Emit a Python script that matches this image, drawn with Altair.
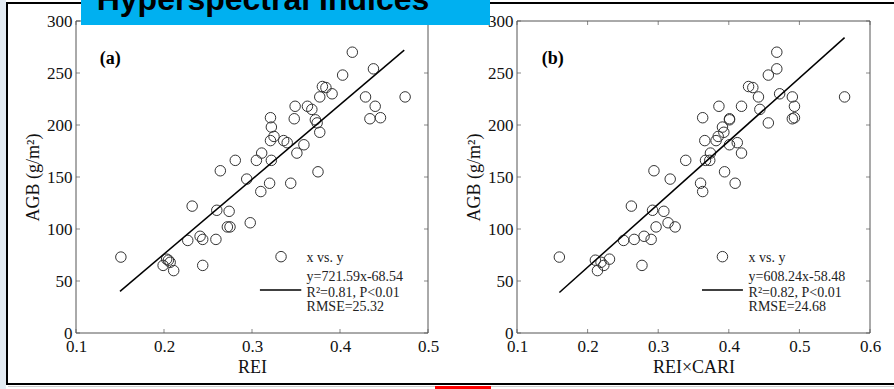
import altair as alt
import pandas as pd

# ---------------- data ----------------
agb = [270, 254, 248, 237, 236, 230, 227, 227, 227, 218, 218, 215, 218,
       206, 207, 206, 207, 205, 202, 198, 193, 189, 185, 185, 183, 181,
       173, 173, 166, 166, 166, 156, 155, 148, 144, 144, 136, 122, 118,
       117, 102, 102, 106, 89, 93, 90, 90, 73, 65, 70, 68, 71, 60, 65]

rei = [0.414, 0.438, 0.403, 0.380, 0.384, 0.391, 0.377, 0.429, 0.474,
       0.349, 0.363, 0.368, 0.440, 0.434, 0.446, 0.348, 0.321, 0.372,
       0.374, 0.322, 0.377, 0.325, 0.321, 0.336, 0.340, 0.359, 0.351,
       0.311, 0.281, 0.305, 0.322, 0.264, 0.375, 0.294, 0.320, 0.344,
       0.310, 0.232, 0.260, 0.274, 0.272, 0.275, 0.298, 0.227, 0.241,
       0.244, 0.259, 0.151, 0.199, 0.205, 0.207, 0.203, 0.211, 0.244]

rei_cari = [0.468, 0.468, 0.456, 0.428, 0.434, 0.472, 0.442, 0.490, 0.564,
            0.386, 0.418, 0.444, 0.493, 0.490, 0.493, 0.401, 0.363, 0.401,
            0.456, 0.391, 0.393, 0.385, 0.366, 0.382, 0.412, 0.401, 0.418,
            0.374, 0.339, 0.367, 0.373, 0.294, 0.394, 0.317, 0.360, 0.409,
            0.363, 0.262, 0.292, 0.308, 0.297, 0.324, 0.314, 0.251, 0.280,
            0.266, 0.290, 0.160, 0.223, 0.211, 0.219, 0.231, 0.214, 0.277]

fit_rei_x = [0.150, 0.473]
fit_rei_y = [40, 272]
fit_cari_x = [0.160, 0.564]
fit_cari_y = [39, 284]

x_ticks_rei = [0.1, 0.2, 0.3, 0.4, 0.5]
x_ticks_cari = [0.1, 0.2, 0.3, 0.4, 0.5, 0.6]
y_ticks = [0, 50, 100, 150, 200, 250, 300]

legend_rei = ["x vs. y", "y=721.59x-68.54", "R\u00b2=0.81, P<0.01", "RMSE=25.32"]
legend_cari = ["x vs. y", "y=608.24x-58.48", "R\u00b2=0.82, P<0.01", "RMSE=24.68"]

SERIF = "Liberation Serif"
FRAME = "#555555"


def panel(xvals, xlabel, xdom, xrange, xticks, fit_x, fit_y, tag, tag_x,
          legend, mark_x, line_x, text_x, left_px):
    xs = alt.Scale(domain=xdom, range=xrange, zero=False, nice=False)
    ys = alt.Scale(domain=[0, 300], range=[333, 21], zero=False, nice=False)
    xax = alt.Axis(orient="bottom", offset=-56, values=xticks, format=".1f",
                   title=xlabel, ticks=False, tickSize=0, domain=False,
                   grid=False, labelPadding=5, labelFontSize=17,
                   titleFontSize=18, titlePadding=4, labelFlush=False,
                   labelOverlap=False)
    yax = alt.Axis(orient="left", offset=-left_px, values=y_ticks, format="d",
                   title="AGB (g/m\u00b2)", ticks=False, tickSize=0,
                   domain=False, grid=False, labelPadding=4, labelFontSize=17,
                   titleFontSize=18, titlePadding=4, labelFlush=False,
                   labelOverlap=False)
    X = alt.X("x:Q", scale=xs, axis=xax)
    Y = alt.Y("y:Q", scale=ys, axis=yax)

    frame = alt.Chart(pd.DataFrame({"x": [xdom[0]], "x2": [xdom[1]],
                                    "y": [0], "y2": [300]})).mark_rect(
        fillOpacity=0, stroke=FRAME, strokeWidth=1).encode(
        x=X, x2="x2:Q", y=Y, y2="y2:Q")

    n = len(xticks)
    m = len(y_ticks)
    t_bottom = alt.Chart(pd.DataFrame({"x": xticks, "y": [0] * n})).mark_tick(
        orient="vertical", size=4, thickness=1, yOffset=-2, color=FRAME).encode(x=X, y=Y)
    t_top = alt.Chart(pd.DataFrame({"x": xticks, "y": [300] * n})).mark_tick(
        orient="vertical", size=4, thickness=1, yOffset=2, color=FRAME).encode(x=X, y=Y)
    t_left = alt.Chart(pd.DataFrame({"x": [xdom[0]] * m, "y": y_ticks})).mark_tick(
        orient="horizontal", size=4, thickness=1, xOffset=2, color=FRAME).encode(x=X, y=Y)
    t_right = alt.Chart(pd.DataFrame({"x": [xdom[1]] * m, "y": y_ticks})).mark_tick(
        orient="horizontal", size=4, thickness=1, xOffset=-2, color=FRAME).encode(x=X, y=Y)

    pts = alt.Chart(pd.DataFrame({"x": xvals, "y": agb})).mark_point(
        shape="circle", filled=False, size=110, stroke="#333333",
        strokeWidth=1, opacity=1).encode(x=X, y=Y)
    fit = alt.Chart(pd.DataFrame({"x": fit_x, "y": fit_y})).mark_line(
        color="black", strokeWidth=1.5).encode(x=X, y=Y)

    tag_t = alt.Chart(pd.DataFrame({"x": [tag_x], "y": [263], "t": [tag]})).mark_text(
        align="left", baseline="middle", font=SERIF, fontWeight="bold",
        fontSize=18, color="black").encode(x=X, y=Y, text="t:N")

    leg_pt = alt.Chart(pd.DataFrame({"x": [mark_x], "y": [73.4]})).mark_point(
        shape="circle", filled=False, size=110, stroke="#333333",
        strokeWidth=1, opacity=1).encode(x=X, y=Y)
    leg_ln = alt.Chart(pd.DataFrame({"x": line_x, "y": [41.3, 41.3]})).mark_line(
        color="black", strokeWidth=1.5).encode(x=X, y=Y)
    leg_tx = alt.Chart(pd.DataFrame({"x": [text_x] * 4,
                                     "y": [72.4, 53.6, 38.2, 24.7],
                                     "t": legend})).mark_text(
        align="left", baseline="middle", font=SERIF, fontSize=14,
        color="#222222").encode(x=X, y=Y, text="t:N")

    return alt.layer(frame, t_bottom, t_top, t_left, t_right, pts, fit,
                     tag_t, leg_pt, leg_ln, leg_tx)


panel_a = panel(rei, "REI", [0.1, 0.5], [76, 428], x_ticks_rei,
                fit_rei_x, fit_rei_y, "(a)", 0.127, legend_rei,
                0.333, [0.309, 0.356], 0.362, 76)
panel_b = panel(rei_cari, "REI\u00d7CARI", [0.1, 0.6], [517, 870], x_ticks_cari,
                fit_cari_x, fit_cari_y, "(b)", 0.135, legend_cari,
                0.391, [0.362, 0.420], 0.428, 517)

# ---------------- slide decorations ----------------
one = pd.DataFrame({"d": [0]})


def rect(x1, x2, y1, y2, color):
    return alt.Chart(one).mark_rect(color=color).encode(
        x=alt.value(x1), x2=alt.value(x2), y=alt.value(y1), y2=alt.value(y2))


def rule(x1, x2, y1, y2, color, w):
    return alt.Chart(one).mark_rule(color=color, strokeWidth=w).encode(
        x=alt.value(x1), x2=alt.value(x2), y=alt.value(y1), y2=alt.value(y2))


deco = [
    rect(0, 6, 0, 389, "#e3ebf2"),
    rule(7, 7, 2, 385, "black", 2),
    rule(6, 894, 3, 3, "black", 2),
    rule(6, 894, 384, 384, "black", 2),
    rule(8, 894, 386.5, 386.5, "#cccccc", 1),
    rect(435, 491, 386, 389, "#ff0000"),
    rect(81, 490, 0, 25, "#00b0f0"),
    alt.Chart(one).mark_text(text="Hyperspectral Indices", font="Liberation Sans",
                             fontWeight="bold", fontSize=32, align="center",
                             baseline="alphabetic", color="black").encode(
        x=alt.value(263), y=alt.value(10)),
]

chart = alt.layer(panel_a, panel_b, *deco).resolve_scale(
    x="independent", y="independent"
).properties(
    width=894, height=389,
    autosize=alt.AutoSizeParams(type="none"),
    padding=0,
    background="white",
).configure_view(stroke=None).configure_axis(
    labelFont=SERIF, titleFont=SERIF, labelColor="#111111",
    titleColor="#111111", titleFontWeight="normal",
)

chart.save("out.html", embed_options={"renderer": "svg", "actions": False})
